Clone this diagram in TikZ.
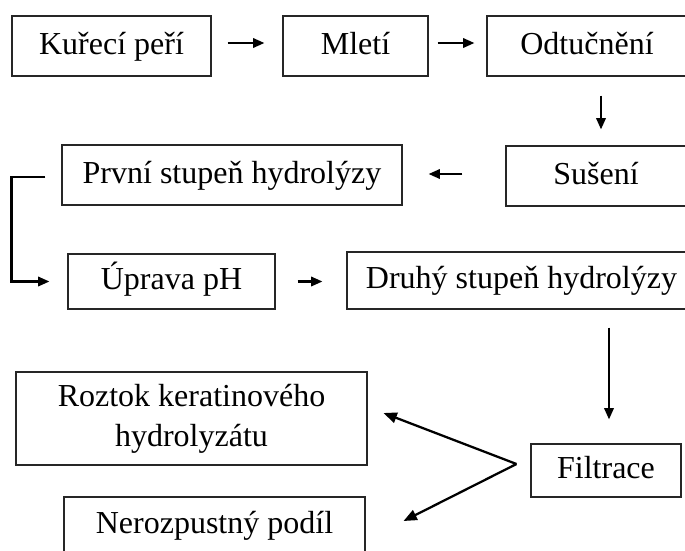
\documentclass[tikz,border=0pt]{standalone}
\usepackage{fontspec}
\setmainfont{Liberation Serif}
\usetikzlibrary{arrows.meta}
\begin{document}
\begin{tikzpicture}[x=0.75pt,y=-0.75pt,
  box/.style={draw=black!85, line width=0.8pt, inner sep=0pt, align=center,
    font=\fontsize{24}{30}\selectfont},
  oneline/.style={box, text height=17pt, text depth=5pt},
  sz/.style 2 args={minimum width=#1*0.75pt, minimum height=#2*0.75pt},
  conn/.style={line width=1.7pt, -{Triangle[length=8.5pt,width=7pt]}},
  bigconn/.style={line width=1.7pt, -{Triangle[length=10pt,width=8pt]}}]
\useasboundingbox (0,0) rectangle (685,550);
\clip (0,0) rectangle (685,550);
\fill[white] (0,0) rectangle (685,550);
\node[oneline, sz={199}{60}] (kur) at (111.5,46) {Kuřecí peří};
\node[oneline, sz={145}{60}] (mle) at (355.5,46) {Mletí};
\node[oneline, sz={200}{60}] (odt) at (587,46) {Odtučnění};
\node[oneline, sz={180}{60}] (sus) at (596,176) {Sušení};
\node[oneline, sz={340}{60}] (prv) at (232,175) {První stupeň hydrolýzy};
\node[oneline, sz={207}{55}] (upr) at (171.5,281.5) {Úprava pH};
\node[oneline, sz={349}{57}] (dru) at (521.5,280.5) {Druhý stupeň hydrolýzy};
\node[oneline, sz={150}{53}] (fil) at (606,470.5) {Filtrace};
\node[box, sz={351}{93}] (roz) at (191.5,418.5) {Roztok keratinového\\hydrolyzátu};
\node[oneline, sz={301}{56}] (ner) at (214.5,525) {Nerozpustný podíl};
\draw[conn] ([shift={(16,-3)}]kur.east) -- ([shift={(-18,-3)}]mle.west);
\draw[conn] ([shift={(9,-3)}]mle.east) -- ([shift={(-12,-3)}]odt.west);
\draw[conn] ([shift={(14,19)}]odt.south) -- ([shift={(5,-16)}]sus.north);
\draw[conn] ([shift={(-43,-2)}]sus.west) -- ([shift={(26,-1)}]prv.east);
\draw[conn] ([shift={(-16,2)}]prv.west) -- ++(-34,0) |- ([shift={(-18,0)}]upr.west);
\draw[conn] ([shift={(22,0)}]upr.east) -- ([shift={(-24,1)}]dru.west);
\draw[conn] ([shift={(87.5,18)}]dru.south) -- ([shift={(3,-24)}]fil.north);
\draw[bigconn] ([shift={(-14,-6.5)}]fil.west) -- ([shift={(16,-5.5)}]roz.east);
\draw[bigconn] ([shift={(-14,-6.5)}]fil.west) -- ([shift={(38,-4)}]ner.east);
\end{tikzpicture}
\end{document}
